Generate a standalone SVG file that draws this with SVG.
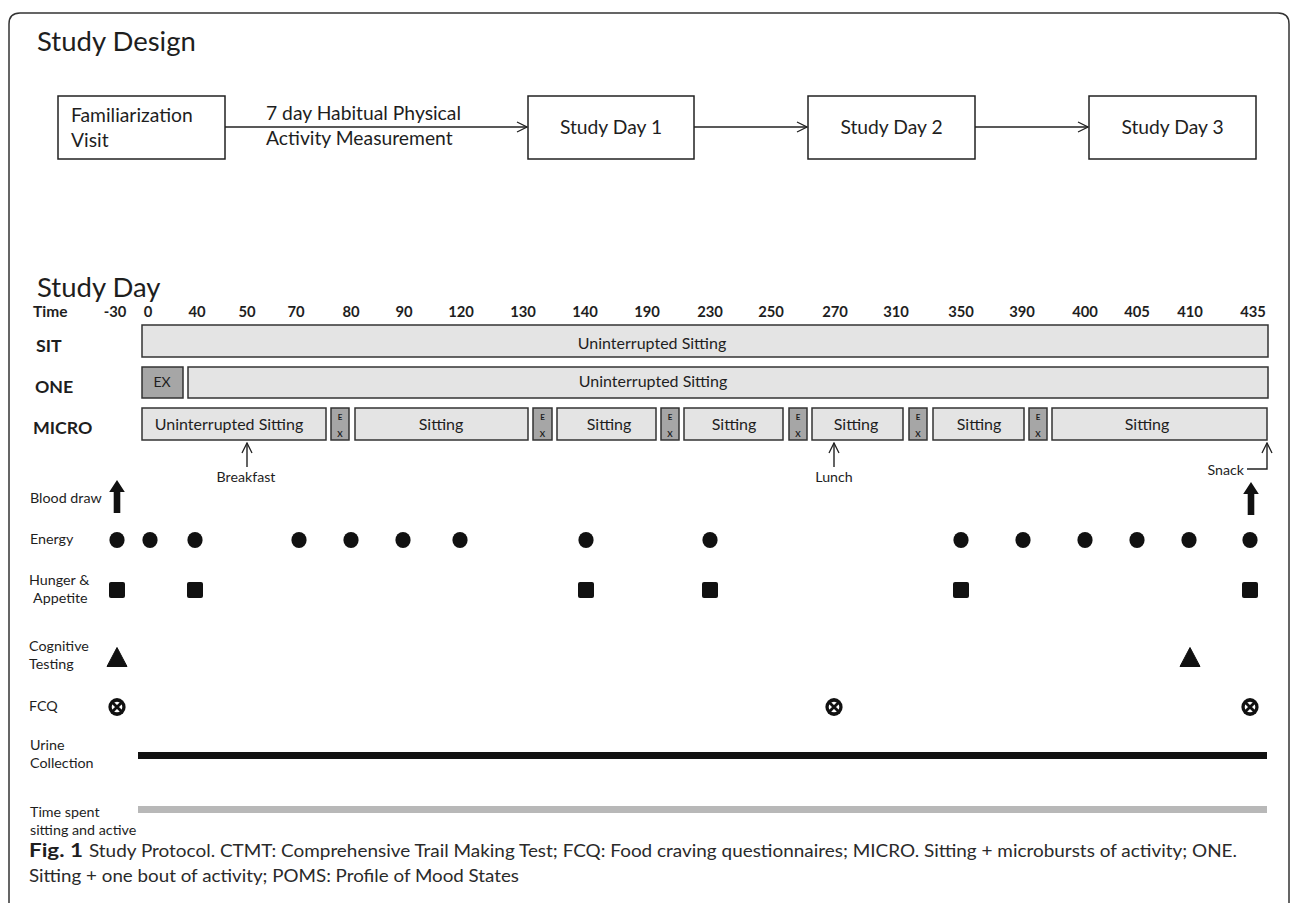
<svg xmlns="http://www.w3.org/2000/svg" width="1292" height="908" viewBox="0 0 1292 908">
<style>
text{font-family:Lato,"Liberation Sans",sans-serif;fill:#1e1e1e}
.title{font-size:27.5px}
.sd{font-size:19.3px}
.tm{font-size:14.8px;font-weight:bold;text-anchor:middle}
.rl{font-size:17.8px;font-weight:bold}
.bt{font-size:16px;text-anchor:middle}
.lab{font-size:14.3px}
.meal{font-size:14.2px}
.ex{font-size:8px;font-weight:bold;text-anchor:middle}
.box{fill:#fff;stroke:#222;stroke-width:1.5}
.bar{fill:#e4e4e4;stroke:#333;stroke-width:1.5}
.exb{fill:#a6a6a6;stroke:#333;stroke-width:1.5}
.conn{fill:none;stroke:#222;stroke-width:1.4}
.cap{font-size:18px;fill:#2a2a2a}
</style>
<defs>
<marker id="open" viewBox="0 0 12 12" refX="11" refY="6" markerWidth="12" markerHeight="12" markerUnits="userSpaceOnUse" orient="auto">
<path d="M1,1 L11,6 L1,11" fill="none" stroke="#222" stroke-width="1.3"/>
</marker>
<g id="dot"><ellipse cx="0" cy="0" rx="7.6" ry="8" fill="#111"/></g>
<g id="sq"><rect x="-8" y="-8" width="16" height="16" rx="2" fill="#111"/></g>
<g id="tri"><path d="M0,-9.5 L10,9.5 L-10,9.5 Z" fill="#111" stroke="#111" stroke-width="1" stroke-linejoin="round"/></g>
<g id="fcq"><ellipse rx="8.6" ry="9" fill="#111"/><circle r="5.3" fill="#fff"/><path d="M-4.6,-4.6 L4.6,4.6 M4.6,-4.6 L-4.6,4.6" stroke="#111" stroke-width="2.8"/></g>
<g id="up"><path d="M-3.3,513 L-3.3,492 L-7.8,492 L0,480 L7.8,492 L3.3,492 L3.3,513 Z" fill="#111"/></g>
</defs>
<rect x="0" y="0" width="1292" height="908" fill="#fff"/>
<path d="M9,903 L9,24 Q9,13 20,13 L1278,13 Q1289,13 1289,24 L1289,903" fill="none" stroke="#333" stroke-width="1.5"/>

<text class="title" x="37" y="51">Study Design</text>

<g id="familiarization">
<rect class="box" x="58" y="96" width="167" height="63"/>
<text class="sd" x="71" y="122">Familiarization</text>
<text class="sd" x="71" y="147">Visit</text>
</g>
<g id="day1"><rect class="box" x="528" y="96" width="166" height="63"/><text class="sd" x="611" y="134" text-anchor="middle">Study Day 1</text></g>
<g id="day2"><rect class="box" x="808" y="96" width="167" height="63"/><text class="sd" x="891.5" y="134" text-anchor="middle">Study Day 2</text></g>
<g id="day3"><rect class="box" x="1089" y="96" width="167" height="63"/><text class="sd" x="1172.5" y="134" text-anchor="middle">Study Day 3</text></g>

<g id="connectors">
<line class="conn" x1="225" y1="127" x2="527" y2="127" marker-end="url(#open)"/>
<line class="conn" x1="694" y1="127" x2="807" y2="127" marker-end="url(#open)"/>
<line class="conn" x1="975" y1="127" x2="1088" y2="127" marker-end="url(#open)"/>
<line class="conn" x1="247" y1="467" x2="247" y2="443" marker-end="url(#open)"/>
<line class="conn" x1="834" y1="467" x2="834" y2="443" marker-end="url(#open)"/>
<path class="conn" d="M1247,469 L1267,469 L1267,443" marker-end="url(#open)"/>
</g>
<text class="sd" x="266" y="120">7 day Habitual Physical</text>
<text class="sd" x="266" y="145">Activity Measurement</text>

<text class="title" x="37" y="297">Study Day</text>

<g id="time-row">
<text x="33" y="317" style="font-size:15.5px;font-weight:bold">Time</text>
<text class="tm" x="115" y="317">-30</text>
<text class="tm" x="148" y="317">0</text>
<text class="tm" x="197" y="317">40</text>
<text class="tm" x="247" y="317">50</text>
<text class="tm" x="296" y="317">70</text>
<text class="tm" x="351" y="317">80</text>
<text class="tm" x="404" y="317">90</text>
<text class="tm" x="461" y="317">120</text>
<text class="tm" x="523" y="317">130</text>
<text class="tm" x="585" y="317">140</text>
<text class="tm" x="647" y="317">190</text>
<text class="tm" x="710" y="317">230</text>
<text class="tm" x="771" y="317">250</text>
<text class="tm" x="835" y="317">270</text>
<text class="tm" x="896" y="317">310</text>
<text class="tm" x="961" y="317">350</text>
<text class="tm" x="1022" y="317">390</text>
<text class="tm" x="1085" y="317">400</text>
<text class="tm" x="1137" y="317">405</text>
<text class="tm" x="1190" y="317">410</text>
<text class="tm" x="1253" y="317">435</text>
</g>

<g id="sit">
<text class="rl" x="36" y="352">SIT</text>
<rect class="bar" x="142" y="325" width="1126" height="32"/>
<text class="bt" x="652" y="349">Uninterrupted Sitting</text>
</g>
<g id="one">
<text class="rl" x="35" y="393">ONE</text>
<rect class="exb" x="142" y="367" width="41" height="31"/>
<text x="162" y="387" style="font-size:14px;text-anchor:middle">EX</text>
<rect class="bar" x="188" y="367" width="1080" height="31"/>
<text class="bt" x="653" y="387">Uninterrupted Sitting</text>
</g>
<g id="micro">
<text class="rl" x="33" y="434">MICRO</text>
<rect class="bar" x="142" y="408" width="184" height="32"/>
<text class="bt" x="229" y="430">Uninterrupted Sitting</text>
<rect class="exb" x="331" y="408" width="18" height="32"/>
<text class="ex" x="340" y="420">E</text><text class="ex" x="340" y="437">X</text>
<rect class="bar" x="355" y="408" width="173" height="32"/>
<text class="bt" x="441" y="430">Sitting</text>
<rect class="exb" x="533" y="408" width="19" height="32"/>
<text class="ex" x="542.5" y="420">E</text><text class="ex" x="542.5" y="437">X</text>
<rect class="bar" x="557" y="408" width="99" height="32"/>
<text class="bt" x="609" y="430">Sitting</text>
<rect class="exb" x="661" y="408" width="18" height="32"/>
<text class="ex" x="670" y="420">E</text><text class="ex" x="670" y="437">X</text>
<rect class="bar" x="684" y="408" width="99" height="32"/>
<text class="bt" x="734" y="430">Sitting</text>
<rect class="exb" x="789" y="408" width="18" height="32"/>
<text class="ex" x="798" y="420">E</text><text class="ex" x="798" y="437">X</text>
<rect class="bar" x="812" y="408" width="91" height="32"/>
<text class="bt" x="856" y="430">Sitting</text>
<rect class="exb" x="909" y="408" width="18" height="32"/>
<text class="ex" x="918" y="420">E</text><text class="ex" x="918" y="437">X</text>
<rect class="bar" x="933" y="408" width="91" height="32"/>
<text class="bt" x="979" y="430">Sitting</text>
<rect class="exb" x="1029" y="408" width="18" height="32"/>
<text class="ex" x="1038" y="420">E</text><text class="ex" x="1038" y="437">X</text>
<rect class="bar" x="1052" y="408" width="215" height="32"/>
<text class="bt" x="1147" y="430">Sitting</text>
</g>

<g id="meals">
<text class="meal" x="246" y="482" text-anchor="middle">Breakfast</text>
<text class="meal" x="834" y="482" text-anchor="middle">Lunch</text>
<text class="meal" x="1244" y="475" text-anchor="end">Snack</text>
</g>

<g id="blood-draw">
<text class="lab" x="30" y="503">Blood draw</text>
<use href="#up" x="117" y="0"/>
<use href="#up" x="1251" y="2"/>
</g>
<g id="energy">
<text class="lab" x="30" y="544">Energy</text>
<use href="#dot" x="117" y="540"/><use href="#dot" x="150" y="540"/><use href="#dot" x="195" y="540"/>
<use href="#dot" x="299" y="540"/><use href="#dot" x="351" y="540"/><use href="#dot" x="403" y="540"/>
<use href="#dot" x="460" y="540"/><use href="#dot" x="586" y="540"/><use href="#dot" x="710" y="540"/>
<use href="#dot" x="961" y="540"/><use href="#dot" x="1023" y="540"/><use href="#dot" x="1085" y="540"/>
<use href="#dot" x="1137" y="540"/><use href="#dot" x="1189" y="540"/><use href="#dot" x="1250" y="540"/>
</g>
<g id="hunger">
<text class="lab" x="29" y="585">Hunger &amp;</text>
<text class="lab" x="33" y="603">Appetite</text>
<use href="#sq" x="117" y="590"/><use href="#sq" x="195" y="590"/><use href="#sq" x="586" y="590"/>
<use href="#sq" x="710" y="590"/><use href="#sq" x="961" y="590"/><use href="#sq" x="1250" y="590"/>
</g>
<g id="cognitive">
<text class="lab" x="29" y="651">Cognitive</text>
<text class="lab" x="29" y="669">Testing</text>
<use href="#tri" x="117" y="657"/><use href="#tri" x="1190" y="657"/>
</g>
<g id="fcq-row">
<text class="lab" x="29" y="711">FCQ</text>
<use href="#fcq" x="117" y="707"/><use href="#fcq" x="834" y="707"/><use href="#fcq" x="1250" y="707"/>
</g>
<g id="urine">
<text class="lab" x="30" y="750">Urine</text>
<text class="lab" x="30" y="768">Collection</text>
<rect x="138" y="752" width="1129" height="7" fill="#111"/>
</g>
<g id="time-spent">
<text class="lab" x="30" y="817">Time spent</text>
<text class="lab" x="30" y="835">sitting and active</text>
<rect x="138" y="806" width="1129" height="7" fill="#b8b8b8"/>
</g>

<g id="caption">
<text x="29" y="857" style="font-size:18.5px;font-weight:bold;fill:#1e1e1e" textLength="54" lengthAdjust="spacingAndGlyphs">Fig. 1</text>
<text class="cap" x="89" y="857" textLength="1148" lengthAdjust="spacingAndGlyphs">Study Protocol. CTMT: Comprehensive Trail Making Test; FCQ: Food craving questionnaires; MICRO. Sitting + microbursts of activity; ONE.</text>
<text class="cap" x="29" y="882" textLength="490" lengthAdjust="spacingAndGlyphs">Sitting + one bout of activity; POMS: Profile of Mood States</text>
</g>
</svg>
